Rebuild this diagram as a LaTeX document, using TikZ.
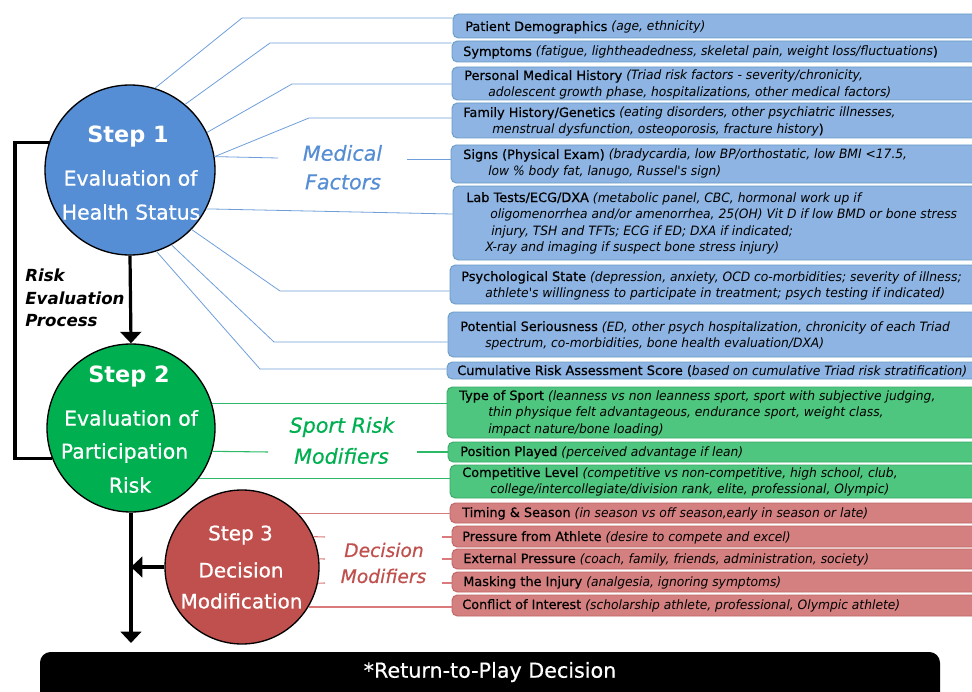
\documentclass[tikz,border=0pt]{standalone}
\usepackage{fontspec}
\setmainfont{DejaVu Sans}
\newfontfamily\ttlf{DejaVu Sans}[FakeBold=0.5]
\newfontfamily\semif{DejaVu Sans}[FakeBold=0.8]
\newfontfamily\dscf{DejaVu Sans}[FakeStretch=0.955]
\usetikzlibrary{arrows.meta,fit}
\definecolor{cblue}{HTML}{558ED5}
\definecolor{cgreen}{HTML}{00B050}
\definecolor{cred}{HTML}{C0504D}
\definecolor{bluefill}{HTML}{8DB4E2}
\definecolor{bluebd}{HTML}{6A9CC6}
\definecolor{greenfill}{HTML}{4FC67F}
\definecolor{greenbd}{HTML}{3AAA66}
\definecolor{redfill}{HTML}{D48080}
\definecolor{redbd}{HTML}{C06464}
\definecolor{bline}{HTML}{6F9FDB}
\definecolor{gline}{HTML}{2DBA68}
\definecolor{rline}{HTML}{DA7A7A}
\tikzset{
  boxbase/.style={rounded corners=4pt, line width=0.7pt, inner sep=0pt},
  bbox/.style={boxbase, draw=bluebd, fill=bluefill},
  gbox/.style={boxbase, draw=greenbd, fill=greenfill},
  rbox/.style={boxbase, draw=redbd, fill=redfill},
  btxt/.style={anchor=base west, inner sep=0pt, font=\fontsize{9.65}{12.4}\selectfont\ttlf},
  stepc/.style={circle, draw=black, line width=1pt, inner sep=0pt},
  ctxt/.style={text=white, inner sep=0pt, font=\fontsize{15.3}{17}\selectfont\semif},
  stxt/.style={text=white, inner sep=0pt, font=\fontsize{16.8}{18}\selectfont\bfseries},
  lbl/.style={inner sep=0pt, font=\fontsize{15.5}{17}\selectfont\ttlf\itshape},
  rpt/.style={anchor=west, inner sep=0pt, font=\fontsize{12.5}{14}\selectfont\bfseries\itshape},
  blink/.style={draw=bline, line width=0.6pt},
  glink/.style={draw=gline, line width=0.8pt},
  rlink/.style={draw=rline, line width=0.8pt},
  arr/.style={draw=black, line width=2.4pt, -{Triangle[width=15.5pt,length=8.6pt]}},
  bk/.style={draw=black, line width=2.4pt}
}
\newcommand{\dsc}[1]{{\dscf\itshape #1}}
\newcommand{\bxt}[1]{\parbox[t]{600pt}{#1}}
\begin{document}
\begin{tikzpicture}[x=0.75pt,y=-0.75pt]
\useasboundingbox (0,0) rectangle (972,692);
\fill[white] (0,0) rectangle (972,692);

% ---- blue boxes
\node[bbox, fit={(453,14) (990,38)}] (b1) {};
\node[bbox, fit={(452,41) (990,62)}] (b2) {};
\node[bbox, fit={(452,67) (990,100)}] (b3) {};
\node[bbox, fit={(452,103) (990,138)}] (b4) {};
\node[bbox, fit={(451,145) (990,183)}] (b5) {};
\node[bbox, fit={(453,186) (990,260)}] (b6) {};
\node[bbox, fit={(450,265) (990,304)}] (b7) {};
\node[bbox, fit={(448,312) (990,357)}] (b8) {};
\node[bbox, fit={(447,362) (990,379)}] (b9) {};
% ---- green boxes
\node[gbox, fit={(447,387) (990,438)}] (g1) {};
\node[gbox, fit={(448,442) (990,462)}] (g2) {};
\node[gbox, fit={(450,465) (990,498)}] (g3) {};
% ---- red boxes
\node[rbox, fit={(450,503) (990,523)}] (r1) {};
\node[rbox, fit={(452,526) (990,547)}] (r2) {};
\node[rbox, fit={(452,549) (990,569)}] (r3) {};
\node[rbox, fit={(452,572) (990,592)}] (r4) {};
\node[rbox, fit={(452,595) (990,616)}] (r5) {};

% ---- box texts
\node[btxt] (tb1) at (465,31) {\bxt{Patient Demographics \dsc{(age, ethnicity)}}};
\node[btxt] (tb2) at (463,56) {\bxt{Symptoms \dsc{(fatigue, lightheadedness, skeletal pain, weight loss/fluctuations})}};
\node[btxt] (tb3) at (464,80) {\bxt{Personal Medical History \dsc{(Triad risk factors - severity/chronicity,}\\\hspace*{18pt}\dsc{adolescent growth phase, hospitalizations, other medical factors)}}};
\node[btxt] (tb4) at (463,117) {\bxt{Family History/Genetics \dsc{(eating disorders, other psychiatric illnesses,}\\\hspace*{21.75pt}\dsc{menstrual dysfunction, osteoporosis, fracture history})}};
\node[btxt] (tb5) at (463,159) {\bxt{Signs (Physical Exam) \dsc{(bradycardia, low BP/orthostatic, low BMI <17.5,}\\\hspace*{18.75pt}\dsc{low \% body fat, lanugo, Russel's sign)}}};
\node[btxt] (tb6) at (466,202) {\bxt{Lab Tests/ECG/DXA \dsc{(metabolic panel, CBC, hormonal work up if}\\\hspace*{18pt}\dsc{oligomenorrhea and/or amenorrhea, 25(OH) Vit D if low BMD or bone stress}\\\hspace*{18.75pt}\dsc{injury, TSH and TFTs; ECG if ED; DXA if indicated;}\\\hspace*{14.25pt}\dsc{X-ray and imaging if suspect bone stress injury)}}};
\node[btxt] (tb7) at (461,281) {\bxt{Psychological State \dsc{(depression, anxiety, OCD co-morbidities; severity of illness;}\\\hspace*{18pt}\dsc{athlete's willingness to participate in treatment; psych testing if indicated)}}};
\node[btxt] (tb8) at (460,331) {\bxt{Potential Seriousness \dsc{(ED, other psych hospitalization, chronicity of each Triad}\\\hspace*{18.75pt}\dsc{spectrum, co-morbidities, bone health evaluation/DXA)}}};
\node[btxt] (tb9) at (457,375) {\bxt{Cumulative Risk Assessment Score (\dsc{based on cumulative Triad risk stratification)}}};
\node[btxt] (tg1) at (459,400) {\bxt{Type of Sport \dsc{(leanness vs non leanness sport, sport with subjective judging,}\\\hspace*{21.75pt}\dsc{thin physique felt advantageous, endurance sport, weight class,}\\\hspace*{21.75pt}\dsc{impact nature/bone loading)}}};
\node[btxt] (tg2) at (460,456) {\bxt{Position Played \dsc{(perceived advantage if lean)}}};
\node[btxt] (tg3) at (462,477) {\bxt{Competitive Level \dsc{(competitive vs non-competitive, high school, club,}\\\hspace*{21pt}\dsc{college/intercollegiate/division rank, elite, professional, Olympic)}}};
\node[btxt] (tr1) at (462,517) {\bxt{Timing \& Season \dsc{(in season vs off season,early in season or late)}}};
\node[btxt] (tr2) at (462,541) {\bxt{Pressure from Athlete \dsc{(desire to compete and excel)}}};
\node[btxt] (tr3) at (463,563) {\bxt{External Pressure \dsc{(coach, family, friends, administration, society)}}};
\node[btxt] (tr4) at (463,586) {\bxt{Masking the Injury \dsc{(analgesia, ignoring symptoms)}}};
\node[btxt] (tr5) at (462,609) {\bxt{Conflict of Interest \dsc{(scholarship athlete, professional, Olympic athlete)}}};

% ---- circles
\node[stepc, fill=cblue, minimum size=127.5pt] (s1) at (130,170) {};
\node[stepc, fill=cgreen, minimum size=126pt] (s2) at (131,428) {};
\node[stepc, fill=cred, minimum size=115.5pt] (s3) at (242,567) {};

\node[stxt] (s1a) at (128,137) {Step 1};
\node[ctxt] (s1b) at (130.5,178) {Evaluation of};
\node[ctxt] (s1c) at (131,212) {Health Status};
\node[stxt] (s2a) at (129,377) {Step 2};
\node[ctxt] (s2b) at (131,418) {Evaluation of};
\node[ctxt] (s2c) at (124.5,453) {Participation};
\node[ctxt] (s2d) at (130,485) {Risk};
\node[ctxt, font=\fontsize{15}{17}\selectfont\semif] (s3a) at (240.5,535) {Step 3};
\node[ctxt, font=\fontsize{15}{17}\selectfont\semif] (s3b) at (241,570) {Decision};
\node[ctxt, font=\fontsize{15}{17}\selectfont\semif] (s3c) at (241.5,601) {Modification};

% ---- category labels
\node[lbl, text=cblue] (m1) at (342.5,153) {Medical};
\node[lbl, text=cblue] (m2) at (343,182) {Factors};
\node[lbl, text=cgreen] (sp1) at (342,427) {Sport Risk};
\node[lbl, text=cgreen] (sp2) at (341.5,456) {Modifiers};
\node[lbl, text=cred, font=\fontsize{14}{16}\selectfont\ttlf\itshape] (dm1) at (384,550) {Decision};
\node[lbl, text=cred, font=\fontsize{14}{16}\selectfont\ttlf\itshape] (dm2) at (383.5,576) {Modifiers};

\node[rpt] (rp1) at (25,275) {Risk};
\node[rpt] (rp2) at (25,298) {Evaluation};
\node[rpt] (rp3) at (25,321) {Process};

% ---- blue connectors
\coordinate (k1) at (242,18);
\coordinate (k2) at (270,43);
\coordinate (k3) at (292,84);
\coordinate (k4) at (309,118);
\coordinate (k5a) at (278,158);
\coordinate (k5b) at (407,159);
\coordinate (k6) at (300,214);
\coordinate (k7) at (280,291);
\coordinate (k8) at (274,342);
\coordinate (k9) at (260,369);
\draw[blink] (s1.73) -- (k1) -- (k1 -| b1.west);
\draw[blink] (s1.50) -- (k2) -- (k2 -| b2.west);
\draw[blink] (s1.26) -- (k3) -- (k3 -| b3.west);
\draw[blink] (s1.9) -- (k4) -- (k4 -| b4.west);
\draw[blink] (s1.9) -- (k5a);
\draw[blink] (k5b) -- (k5b -| b5.west);
\draw[blink] (s1.-27) -- (k6 -| b6.west);
\draw[blink] (s1.-44) -- (k7) -- (k7 -| b7.west);
\draw[blink] (s1.-61) -- (k8) -- (k8 -| b8.west);
\draw[blink] (s1.-72) -- (k9) -- (k9 -| b9.west);

% ---- green connectors
\coordinate (q2a) at (268,452);
\coordinate (q2b) at (417,452);
\draw[glink] (s2.17) -- (s2.17 -| g1.west);
\draw[glink] (s2.-16) -- (q2a);
\draw[glink] (q2b) -- (q2b -| g2.west);
\draw[glink] (s2.-37) -- (s2.-37 -| g3.west);

% ---- red connectors
\coordinate (w2a) at (325,537);
\coordinate (w2b) at (442,537);
\coordinate (w3a) at (325,559);
\coordinate (w3b) at (442,559);
\coordinate (w4a) at (325,583);
\coordinate (w4b) at (442,583);
\draw[rlink] (s3.44) -- (s3.44 -| r1.west);
\draw[rlink] (s3.23) -- (w2a);
\draw[rlink] (w2b) -- (w2b -| r2.west);
\draw[rlink] (s3.6) -- (w3a);
\draw[rlink] (w3b) -- (w3b -| r3.west);
\draw[rlink] (s3.-12) -- (w4a);
\draw[rlink] (w4b) -- (w4b -| r4.west);
\draw[rlink] (s3.-31) -- (s3.-31 -| r5.west);

% ---- final decision box
\node[fill=black, rounded corners=8pt, inner sep=0pt, fit={(40,652) (940,730)}] (rtp) {};
\node[text=white, inner sep=0pt, font=\fontsize{15.5}{17}\selectfont\ttlf] (rtpt) at (490,672) {*Return-to-Play Decision};

% ---- black flow
\coordinate (lb) at (15,0);
\coordinate (atip) at (131,643);
\draw[bk] (s1.161) -- (s1.161 -| lb) |- (s2.201);
\draw[arr] (s1.south) -- (s2.north);
\draw[arr] (s2.south) -- (atip);
\draw[arr] (s3.west) -- (s3.west -| s2.south);
\end{tikzpicture}
\end{document}
